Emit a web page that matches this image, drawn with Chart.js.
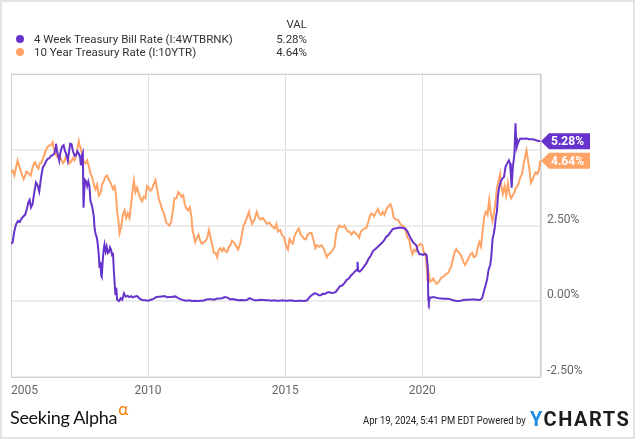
<!DOCTYPE html>
<html>
<head>
<meta charset="utf-8">
<script src="https://cdn.jsdelivr.net/npm/chart.js@4"></script>
<style>
  body { margin: 0; background: #fff; font-family: Roboto, sans-serif; }
  #wrap { position: relative; width: 635px; height: 439px; overflow: hidden; background: #fff; }
  #frame { position: absolute; left: 0; top: 0; width: 635px; height: 439px; box-sizing: border-box; border: 2px solid #e4e4e4; pointer-events: none; }
  canvas { position: absolute; left: 0; top: 0; }
  .txt { position: absolute; font-size: 11.5px; color: #333; white-space: nowrap; line-height: 14px; }
  .dot { position: absolute; width: 8px; height: 8px; border-radius: 50%; }
  .val { position: absolute; right: 328px; font-size: 11.5px; color: #333; line-height: 14px; text-align: right; }
  #sa { position: absolute; left: 10px; top: 400px; font-family: Lato, sans-serif; font-size: 18px; color: #111; letter-spacing: -0.3px; }
  #sa sup { color: #ff7a00; font-size: 17px; position: relative; top: -2px; margin-left: 1px; }
  #stamp { position: absolute; left: 363px; top: 414px; font-size: 11px; color: #222; transform: scaleX(0.86); transform-origin: left center; white-space: nowrap; }
  #yc { position: absolute; left: 530px; top: 407px; font-size: 20px; font-weight: bold; color: #1c1c1c; letter-spacing: 1.5px; }
  #yc span { color: #1e8fe0; }
</style>
</head>
<body>
<div id="wrap">
  <canvas id="chart" width="635" height="439"></canvas>
  <div id="frame"></div>

  <div class="val" style="top:17px;">VAL</div>
  <div class="dot" style="left:16px; top:35px; background:#6633cc;"></div>
  <div class="txt" id="name0" style="left:34px; top:32px;"></div>
  <div class="val" id="val0" style="top:32px;"></div>
  <div class="dot" style="left:16px; top:48px; background:#ffa366;"></div>
  <div class="txt" id="name1" style="left:34px; top:45px;"></div>
  <div class="val" id="val1" style="top:45px;"></div>

  <div id="sa">Seeking Alpha<sup>α</sup></div>
  <div id="stamp">Apr 19, 2024, 5:41 PM EDT Powered by</div>
  <div id="yc"><span>Y</span>CHARTS</div>
</div>

<script>
// series names and latest values
const seriesNames = ['4 Week Treasury Bill Rate (I:4WTBRNK)', '10 Year Treasury Rate (I:10YTR)'];
const lastValues = [5.28, 4.64];
const xTickYears = [2005, 2010, 2015, 2020];

// 4 week bill rate, % (decimal years)
const billYears = [
  2005.0, 2005.06, 2005.12, 2005.18, 2005.25, 2005.32, 2005.38, 2005.45, 2005.52, 2005.58,
  2005.64, 2005.68, 2005.73, 2005.79, 2005.85, 2005.91, 2005.96, 2006.03, 2006.09, 2006.16,
  2006.22, 2006.28, 2006.34, 2006.40, 2006.46, 2006.52, 2006.58, 2006.62, 2006.64, 2006.68,
  2006.72, 2006.76, 2006.80, 2006.86, 2006.92, 2006.97, 2007.02, 2007.07, 2007.12, 2007.16,
  2007.21, 2007.26, 2007.32, 2007.37, 2007.42, 2007.47, 2007.52, 2007.55, 2007.58, 2007.62,
  2007.645, 2007.67, 2007.70, 2007.74, 2007.78, 2007.82, 2007.86, 2007.90, 2007.94, 2007.98,
  2008.02, 2008.05, 2008.09, 2008.13, 2008.16, 2008.20, 2008.23, 2008.26, 2008.29, 2008.31,
  2008.35, 2008.38, 2008.41, 2008.45, 2008.49, 2008.53, 2008.57, 2008.61, 2008.65, 2008.69,
  2008.72, 2008.75, 2008.78, 2008.81, 2008.84, 2008.87, 2008.91, 2008.95, 2009.0, 2009.06,
  2009.12, 2009.18, 2009.25, 2009.32, 2009.38, 2009.45, 2009.52, 2009.6, 2009.7, 2009.8,
  2009.9, 2010.0, 2010.1, 2010.2, 2010.3, 2010.4, 2010.5, 2010.6, 2010.7, 2010.8,
  2010.9, 2011.0, 2011.1, 2011.2, 2011.3, 2011.4, 2011.5, 2011.6, 2011.7, 2011.8,
  2011.9, 2012.0, 2012.1, 2012.2, 2012.3, 2012.4, 2012.5, 2012.6, 2012.7, 2012.8,
  2012.9, 2013.0, 2013.1, 2013.2, 2013.3, 2013.4, 2013.5, 2013.6, 2013.7, 2013.8,
  2013.9, 2014.0, 2014.1, 2014.2, 2014.3, 2014.4, 2014.5, 2014.6, 2014.7, 2014.8,
  2014.9, 2015.0, 2015.1, 2015.2, 2015.3, 2015.4, 2015.5, 2015.6, 2015.7, 2015.8,
  2015.9, 2016.0, 2016.07, 2016.15, 2016.22, 2016.3, 2016.38, 2016.45, 2016.52, 2016.6,
  2016.68, 2016.76, 2016.84, 2016.92, 2017.0, 2017.08, 2017.16, 2017.24, 2017.32, 2017.4,
  2017.48, 2017.56, 2017.62, 2017.64, 2017.66, 2017.72, 2017.8, 2017.88, 2017.96, 2018.04,
  2018.12, 2018.2, 2018.28, 2018.36, 2018.44, 2018.52, 2018.6, 2018.68, 2018.76, 2018.84,
  2018.92, 2019.0, 2019.1, 2019.2, 2019.3, 2019.38, 2019.46, 2019.54, 2019.6, 2019.66,
  2019.72, 2019.78, 2019.84, 2019.9, 2019.96, 2020.04, 2020.1, 2020.16, 2020.2, 2020.22,
  2020.24, 2020.28, 2020.34, 2020.4, 2020.5, 2020.6, 2020.7, 2020.8, 2020.9, 2021.0,
  2021.1, 2021.2, 2021.3, 2021.4, 2021.5, 2021.6, 2021.7, 2021.8, 2021.9, 2022.0,
  2022.1, 2022.18, 2022.24, 2022.3, 2022.36, 2022.42, 2022.48, 2022.52, 2022.56, 2022.6,
  2022.64, 2022.68, 2022.72, 2022.76, 2022.8, 2022.86, 2022.92, 2022.98, 2023.04, 2023.1,
  2023.16, 2023.2, 2023.23, 2023.26, 2023.3, 2023.36, 2023.4, 2023.42, 2023.45, 2023.5,
  2023.56, 2023.62, 2023.7, 2023.8, 2023.9, 2024.0, 2024.1, 2024.2, 2024.3
];
const billRates = [
  1.90, 1.95, 2.30, 2.53, 2.65, 2.62, 2.72, 2.80, 2.86, 3.05,
  3.28, 3.35, 3.10, 3.22, 3.60, 3.92, 3.85, 3.62, 4.05, 4.42,
  4.50, 4.62, 4.70, 4.72, 4.80, 4.82, 4.88, 5.05, 5.20, 4.95,
  4.80, 4.64, 4.90, 5.10, 5.15, 4.95, 4.85, 4.64, 4.95, 5.20,
  5.18, 4.95, 4.80, 4.82, 4.95, 4.88, 4.75, 4.48, 4.80, 4.90,
  3.09, 3.60, 4.00, 3.95, 3.80, 3.95, 3.80, 3.30, 3.20, 3.03,
  2.80, 2.40, 2.20, 2.10, 1.92, 1.55, 1.10, 1.30, 0.85, 0.81,
  1.40, 1.70, 1.87, 1.65, 1.80, 1.59, 1.62, 1.78, 1.70, 1.50,
  1.60, 1.03, 0.60, 0.20, 0.45, 0.05, 0.02, 0.01, 0.10, 0.05,
  0.26, 0.15, 0.18, 0.14, 0.17, 0.13, 0.16, 0.17, 0.08, 0.04,
  0.03, 0.02, 0.05, 0.08, 0.14, 0.15, 0.16, 0.17, 0.13, 0.14,
  0.15, 0.16, 0.10, 0.06, 0.03, 0.02, 0.03, 0.01, 0.02, 0.01,
  0.02, 0.02, 0.05, 0.07, 0.07, 0.05, 0.08, 0.09, 0.10, 0.14,
  0.12, 0.06, 0.07, 0.05, 0.03, 0.04, 0.03, 0.04, 0.10, 0.06,
  0.03, 0.03, 0.05, 0.04, 0.03, 0.03, 0.02, 0.03, 0.02, 0.02,
  0.03, 0.02, 0.02, 0.03, 0.02, 0.01, 0.02, 0.02, 0.01, 0.03,
  0.15, 0.22, 0.26, 0.25, 0.20, 0.20, 0.25, 0.24, 0.28, 0.30,
  0.27, 0.28, 0.30, 0.40, 0.50, 0.52, 0.60, 0.70, 0.75, 0.85,
  0.92, 1.00, 1.05, 1.30, 1.00, 0.98, 1.05, 1.15, 1.25, 1.40,
  1.50, 1.65, 1.72, 1.78, 1.85, 1.92, 2.00, 2.12, 2.18, 2.28,
  2.38, 2.40, 2.42, 2.43, 2.42, 2.40, 2.30, 2.14, 2.05, 1.95,
  1.90, 1.85, 1.65, 1.55, 1.55, 1.53, 1.57, 1.52, 1.10, 0.05,
  -0.03, 0.12, 0.12, 0.14, 0.12, 0.10, 0.09, 0.08, 0.08, 0.07,
  0.04, 0.02, 0.01, 0.02, 0.04, 0.05, 0.05, 0.06, 0.06, 0.05,
  0.04, 0.10, 0.30, 0.50, 0.70, 1.05, 1.20, 1.50, 2.03, 2.20,
  2.40, 2.75, 2.95, 3.48, 3.75, 3.95, 4.05, 4.10, 4.45, 4.55,
  4.65, 4.55, 4.20, 3.75, 4.40, 4.85, 5.87, 5.40, 5.10, 5.25,
  5.35, 5.37, 5.36, 5.37, 5.35, 5.35, 5.33, 5.30, 5.28
];

// 10 year treasury rate, % (decimal years)
const noteYears = [
  2005.0, 2005.06, 2005.12, 2005.18, 2005.24, 2005.3, 2005.36, 2005.41, 2005.46, 2005.52,
  2005.56, 2005.6, 2005.66, 2005.72, 2005.78, 2005.84, 2005.88, 2005.94, 2006.0, 2006.05,
  2006.1, 2006.16, 2006.22, 2006.28, 2006.34, 2006.40, 2006.46, 2006.52, 2006.56, 2006.6,
  2006.64, 2006.7, 2006.76, 2006.82, 2006.89, 2006.95, 2007.01, 2007.07, 2007.13, 2007.19,
  2007.25, 2007.31, 2007.37, 2007.43, 2007.47, 2007.5, 2007.55, 2007.6, 2007.66, 2007.72,
  2007.78, 2007.84, 2007.9, 2007.96, 2008.02, 2008.08, 2008.14, 2008.2, 2008.26, 2008.32,
  2008.38, 2008.44, 2008.5, 2008.55, 2008.6, 2008.66, 2008.72, 2008.78, 2008.83, 2008.87,
  2008.92, 2008.96, 2009.02, 2009.08, 2009.14, 2009.2, 2009.26, 2009.32, 2009.38, 2009.44,
  2009.48, 2009.54, 2009.6, 2009.66, 2009.72, 2009.78, 2009.84, 2009.9, 2009.96, 2010.02,
  2010.08, 2010.14, 2010.2, 2010.27, 2010.33, 2010.4, 2010.46, 2010.52, 2010.58, 2010.66,
  2010.72, 2010.78, 2010.84, 2010.9, 2010.96, 2011.04, 2011.1, 2011.16, 2011.22, 2011.28,
  2011.34, 2011.4, 2011.46, 2011.52, 2011.58, 2011.62, 2011.66, 2011.72, 2011.78, 2011.84,
  2011.9, 2011.96, 2012.04, 2012.1, 2012.16, 2012.22, 2012.28, 2012.34, 2012.4, 2012.46,
  2012.52, 2012.58, 2012.64, 2012.7, 2012.76, 2012.82, 2012.88, 2012.94, 2013.0, 2013.06,
  2013.12, 2013.2, 2013.28, 2013.36, 2013.42, 2013.48, 2013.54, 2013.6, 2013.68, 2013.72,
  2013.8, 2013.88, 2013.96, 2014.04, 2014.1, 2014.18, 2014.26, 2014.34, 2014.42, 2014.5,
  2014.56, 2014.62, 2014.68, 2014.74, 2014.82, 2014.88, 2014.96, 2015.04, 2015.1, 2015.16,
  2015.22, 2015.28, 2015.34, 2015.42, 2015.5, 2015.56, 2015.62, 2015.7, 2015.76, 2015.82,
  2015.9, 2015.96, 2016.04, 2016.1, 2016.16, 2016.24, 2016.32, 2016.4, 2016.46, 2016.52,
  2016.58, 2016.66, 2016.74, 2016.8, 2016.86, 2016.92, 2016.98, 2017.04, 2017.1, 2017.16,
  2017.22, 2017.28, 2017.34, 2017.42, 2017.5, 2017.56, 2017.62, 2017.7, 2017.76, 2017.82,
  2017.9, 2017.96, 2018.04, 2018.1, 2018.16, 2018.24, 2018.32, 2018.38, 2018.44, 2018.5,
  2018.56, 2018.62, 2018.7, 2018.78, 2018.84, 2018.9, 2018.96, 2019.04, 2019.12, 2019.2,
  2019.26, 2019.34, 2019.4, 2019.46, 2019.52, 2019.58, 2019.64, 2019.7, 2019.76, 2019.82,
  2019.88, 2019.94, 2020.0, 2020.06, 2020.12, 2020.17, 2020.2, 2020.23, 2020.28, 2020.34,
  2020.4, 2020.46, 2020.52, 2020.58, 2020.64, 2020.7, 2020.78, 2020.86, 2020.94, 2021.0,
  2021.06, 2021.12, 2021.18, 2021.24, 2021.28, 2021.34, 2021.42, 2021.5, 2021.56, 2021.62,
  2021.7, 2021.76, 2021.82, 2021.88, 2021.96, 2022.02, 2022.08, 2022.14, 2022.2, 2022.26,
  2022.32, 2022.38, 2022.44, 2022.5, 2022.56, 2022.6, 2022.66, 2022.72, 2022.8, 2022.84,
  2022.88, 2022.94, 2023.0, 2023.06, 2023.12, 2023.18, 2023.24, 2023.3, 2023.36, 2023.42,
  2023.5, 2023.58, 2023.64, 2023.7, 2023.76, 2023.8, 2023.84, 2023.9, 2023.96, 2024.02,
  2024.08, 2024.14, 2024.2, 2024.26, 2024.3
];
const noteRates = [
  4.25, 4.31, 4.15, 4.40, 4.64, 4.45, 4.30, 4.15, 4.03, 4.15,
  4.28, 4.26, 4.20, 4.15, 4.40, 4.55, 4.59, 4.45, 4.38, 4.55,
  4.56, 4.70, 4.85, 5.00, 5.10, 5.14, 5.15, 5.25, 5.05, 4.95,
  4.85, 4.75, 4.70, 4.72, 4.56, 4.62, 4.80, 4.78, 4.55, 4.60,
  4.72, 4.65, 4.78, 5.05, 5.28, 5.15, 5.05, 4.80, 4.60, 4.55,
  4.65, 4.45, 4.20, 4.10, 3.85, 3.70, 3.85, 3.48, 3.55, 3.85,
  3.95, 4.10, 4.15, 4.05, 3.95, 3.85, 3.70, 3.80, 3.50, 2.95,
  2.65, 2.25, 2.45, 2.85, 3.00, 2.75, 2.90, 2.75, 3.20, 3.70,
  3.98, 3.60, 3.75, 3.55, 3.40, 3.30, 3.45, 3.40, 3.80, 3.75,
  3.65, 3.70, 3.85, 4.00, 3.70, 3.35, 3.20, 3.00, 2.90, 2.60,
  2.55, 2.50, 2.60, 2.95, 3.40, 3.40, 3.60, 3.55, 3.45, 3.50,
  3.20, 3.05, 3.00, 3.10, 2.80, 2.35, 2.20, 1.95, 2.10, 2.20,
  2.00, 1.90, 1.95, 2.00, 2.10, 2.35, 2.10, 1.85, 1.60, 1.60,
  1.45, 1.70, 1.75, 1.65, 1.75, 1.65, 1.62, 1.78, 1.85, 2.00,
  1.95, 1.85, 1.70, 1.90, 2.20, 2.50, 2.60, 2.75, 2.95, 2.75,
  2.55, 2.70, 2.95, 2.75, 2.70, 2.75, 2.65, 2.55, 2.60, 2.50,
  2.45, 2.40, 2.55, 2.30, 2.35, 2.20, 2.10, 1.80, 1.70, 2.05,
  1.95, 1.90, 2.15, 2.30, 2.40, 2.20, 2.15, 2.05, 2.05, 2.20,
  2.25, 2.25, 2.00, 1.75, 1.85, 1.80, 1.85, 1.75, 1.60, 1.45,
  1.55, 1.60, 1.70, 1.80, 2.25, 2.40, 2.50, 2.45, 2.45, 2.50,
  2.40, 2.30, 2.30, 2.20, 2.30, 2.25, 2.20, 2.10, 2.30, 2.35,
  2.40, 2.42, 2.65, 2.85, 2.90, 2.80, 2.95, 3.05, 2.90, 2.85,
  2.95, 2.85, 3.05, 3.15, 3.20, 3.05, 2.75, 2.70, 2.68, 2.55,
  2.50, 2.45, 2.30, 2.10, 2.05, 1.75, 1.55, 1.70, 1.65, 1.80,
  1.85, 1.90, 1.85, 1.60, 1.55, 1.00, 0.65, 0.95, 0.65, 0.68,
  0.75, 0.65, 0.58, 0.62, 0.70, 0.78, 0.82, 0.90, 0.93, 1.05,
  1.15, 1.40, 1.62, 1.72, 1.65, 1.60, 1.50, 1.30, 1.20, 1.30,
  1.45, 1.55, 1.60, 1.45, 1.50, 1.75, 1.95, 1.80, 2.30, 2.80,
  2.95, 2.85, 3.35, 2.90, 2.65, 2.85, 3.20, 3.70, 4.05, 4.20,
  3.80, 3.55, 3.80, 3.50, 3.90, 3.55, 3.40, 3.50, 3.60, 3.75,
  3.85, 4.10, 4.20, 4.55, 4.80, 4.98, 4.75, 4.40, 3.90, 4.00,
  4.15, 4.25, 4.20, 4.35, 4.64
];

const purple = '#6633cc';
const orange = '#ffa366';

document.getElementById('name0').textContent = seriesNames[0];
document.getElementById('name1').textContent = seriesNames[1];
document.getElementById('val0').textContent = lastValues[0].toFixed(2) + '%';
document.getElementById('val1').textContent = lastValues[1].toFixed(2) + '%';

function drawBadge(ctx, x, y, text, color) {
  const h = 16, w = 49, tip = 8;
  ctx.beginPath();
  ctx.moveTo(x, y);
  ctx.lineTo(x + tip, y - h / 2);
  ctx.lineTo(x + w, y - h / 2);
  ctx.lineTo(x + w, y + h / 2);
  ctx.lineTo(x + tip, y + h / 2);
  ctx.closePath();
  ctx.fillStyle = color;
  ctx.fill();
  ctx.fillStyle = '#fff';
  ctx.font = 'bold 12px Roboto';
  ctx.textAlign = 'left';
  ctx.textBaseline = 'middle';
  ctx.fillText(text, x + tip + 2, y + 1);
}

// frame of the plot area, drawn under the lines
const framePlugin = {
  id: 'frame',
  beforeDatasetsDraw(chart) {
    const { ctx, chartArea: a } = chart;
    ctx.save();
    ctx.strokeStyle = '#cfcfcf';
    ctx.lineWidth = 1;
    ctx.strokeRect(a.left + 0.5, a.top + 0.5, a.right - a.left - 1, a.bottom - a.top);
    ctx.restore();
  },
  afterDraw(chart) {
    const { ctx, chartArea: a } = chart;
    const xs = chart.scales.x, ys = chart.scales.y;
    ctx.save();
    // x tick labels, first one kept inside the frame
    ctx.font = '12px Roboto';
    ctx.fillStyle = '#666';
    ctx.textAlign = 'center';
    ctx.textBaseline = 'middle';
    xTickYears.forEach(yr => {
      const w = ctx.measureText(String(yr)).width;
      const px = Math.max(xs.getPixelForValue(yr), a.left + w / 2);
      ctx.fillText(String(yr), px, a.bottom + 14);
    });
    // last value badges
    drawBadge(ctx, a.right, ys.getPixelForValue(lastValues[0]), lastValues[0].toFixed(2) + '%', purple);
    drawBadge(ctx, a.right, ys.getPixelForValue(lastValues[1]), lastValues[1].toFixed(2) + '%', orange);
    ctx.restore();
  }
};

new Chart(document.getElementById('chart'), {
  type: 'line',
  data: {
    datasets: [
      {
        label: seriesNames[0],
        data: billYears.map((x, i) => ({ x: x, y: billRates[i] })),
        borderColor: purple,
        borderWidth: 2,
        pointRadius: 0,
        tension: 0
      },
      {
        label: seriesNames[1],
        data: noteYears.map((x, i) => ({ x: x, y: noteRates[i] })),
        borderColor: orange,
        borderWidth: 2,
        pointRadius: 0,
        tension: 0
      }
    ]
  },
  options: {
    responsive: false,
    animation: false,
    devicePixelRatio: 1,
    layout: { padding: { left: 11, top: 74, right: 0, bottom: 0 } },
    plugins: { legend: { display: false }, tooltip: { enabled: false } },
    scales: {
      x: {
        type: 'linear',
        min: 2005,
        max: 2024.33,
        afterFit: s => { s.height = 62; },
        ticks: { display: false, stepSize: 5 },
        grid: { color: '#dedede', lineWidth: 1, drawTicks: false },
        border: { display: false }
      },
      y: {
        position: 'right',
        min: -2.5,
        max: 7.5,
        afterFit: s => { s.width = 94; },
        ticks: {
          stepSize: 2.5,
          padding: 6,
          labelOffset: -6,
          color: '#666',
          font: { family: 'Roboto', size: 12 },
          callback: v => v >= 7.5 ? '' : v.toFixed(2) + '%'
        },
        grid: { color: '#ececec', lineWidth: 2, drawTicks: false },
        border: { display: false }
      }
    }
  },
  plugins: [framePlugin]
});
</script>
</body>
</html>
